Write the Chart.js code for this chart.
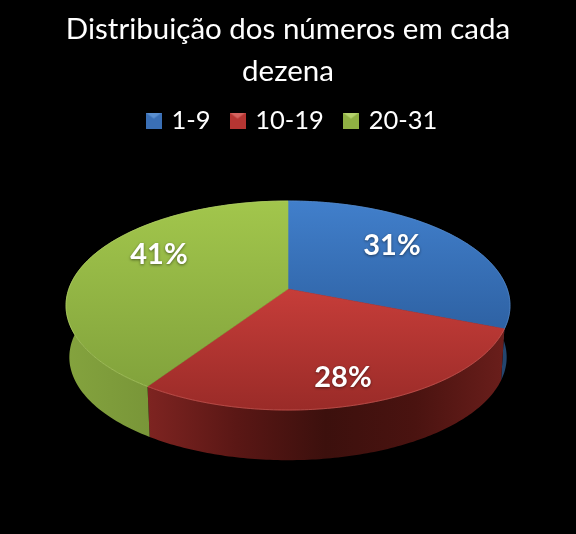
<!DOCTYPE html>
<html>
<head>
<meta charset="utf-8">
<script src="https://cdn.jsdelivr.net/npm/chart.js@4"></script>
<style>
  html, body { margin: 0; padding: 0; background: #000; }
  canvas { display: block; }
</style>
</head>
<body>
<canvas id="grafico" width="576" height="534"></canvas>
<script>
const categorias = ["1-9", "10-19", "20-31"];
const valores = [31, 28.4, 40.6];
const titulo = ["Distribuição dos números em cada", "dezena"];

const corBase = ["#3a6fb5", "#b53532", "#8fb043"];
const corTopo = [["#417fcb", "#2e62a4"], ["#c63d39", "#9a2b28"], ["#a2c64c", "#82a33c"]];
const corLuz = ["#5a8fd0", "#d4625e", "#b5d26c"];
// stops of the side wall, left to right
const corLado = [
  ["#1a3658", "#24466f"],
  ["#7e2421", "#5a1715", "#3c100d", "#4a1310", "#6a1e1b"],
  ["#84a33e", "#66802f"]
];
const faixaTopo = [[201, 328], [289, 410], [201, 386]];
const posRotulo = [[392, 246], [343, 378], [159, 255]];

// perspective of the disc: centre, half axes, tilt
const cx = 288, cy = 289, A = 219.2, B = 101.9, k = 0.158;
const baixoDy = 52, baixoEsc = 0.985;

function projeta(ang, esc, dy) {
  const u = Math.cos(ang), v = Math.sin(ang), d = 1 - k * v;
  return [cx + esc * A * u / d, cy + dy + esc * B * v / d];
}

function caminhoBorda(ctx, a0, a1, esc, dy, primeiro) {
  const n = 120;
  for (let i = 0; i <= n; i++) {
    const p = projeta(a0 + (a1 - a0) * i / n, esc, dy);
    if (i === 0 && primeiro) ctx.moveTo(p[0], p[1]);
    else ctx.lineTo(p[0], p[1]);
  }
}

function extensaoX(a0, a1) {
  let min = 9999, max = -9999;
  for (let i = 0; i <= 120; i++) {
    const x = projeta(a0 + (a1 - a0) * i / 120, 1, 0)[0];
    min = Math.min(min, x);
    max = Math.max(max, x);
  }
  return [min, max];
}

const pizza3d = {
  id: "pizza3d",
  afterLayout(chart) {
    // legend sits a bit right of the title in the original, and closer to it
    chart.legend.left += 5;
    chart.legend.right += 5;
    chart.legend.top -= 7;
    chart.legend.bottom -= 7;
  },
  beforeDatasetsDraw(chart) {
    const ctx = chart.ctx;
    const arcos = chart.getDatasetMeta(0).data;

    // side walls first, the top covers what is behind
    arcos.forEach((arc, i) => {
      const ex = extensaoX(arc.startAngle, arc.endAngle);
      const g = ctx.createLinearGradient(ex[0], 0, ex[1], 0);
      corLado[i].forEach((c, j) => g.addColorStop(j / (corLado[i].length - 1), c));
      ctx.beginPath();
      caminhoBorda(ctx, arc.startAngle, arc.endAngle, 1, 0, true);
      caminhoBorda(ctx, arc.endAngle, arc.startAngle, baixoEsc, baixoDy, false);
      ctx.closePath();
      ctx.fillStyle = g;
      ctx.fill();
    });

    // top of the slices
    arcos.forEach((arc, i) => {
      const g = ctx.createLinearGradient(0, faixaTopo[i][0], 0, faixaTopo[i][1]);
      g.addColorStop(0, corTopo[i][0]);
      g.addColorStop(1, corTopo[i][1]);
      ctx.beginPath();
      ctx.moveTo(cx, cy);
      caminhoBorda(ctx, arc.startAngle, arc.endAngle, 1, 0, false);
      ctx.closePath();
      ctx.fillStyle = g;
      ctx.fill();
      ctx.strokeStyle = g;
      ctx.lineWidth = 0.6;
      ctx.stroke();
    });

    // light line on the rim
    arcos.forEach((arc, i) => {
      ctx.beginPath();
      caminhoBorda(ctx, arc.startAngle, arc.endAngle, 1, 0, true);
      ctx.strokeStyle = corLuz[i];
      ctx.globalAlpha = 0.6;
      ctx.lineWidth = 1;
      ctx.stroke();
      ctx.globalAlpha = 1;
    });

    ctx.save();
    ctx.font = "bold 29px Lato";
    ctx.fillStyle = "#fff";
    ctx.textAlign = "center";
    ctx.textBaseline = "middle";
    ctx.shadowColor = "rgba(0,0,0,0.5)";
    ctx.shadowBlur = 3;
    ctx.shadowOffsetY = 1;
    valores.forEach((v, i) => {
      ctx.fillText(Math.round(v) + "%", posRotulo[i][0], posRotulo[i][1]);
    });
    ctx.restore();
    return false;
  }
};

function marcador(i) {
  const c = document.createElement("canvas");
  c.width = 16;
  c.height = 16;
  const x = c.getContext("2d");
  x.fillStyle = corBase[i];
  x.fillRect(0, 0, 16, 16);
  x.fillStyle = corLuz[i];
  x.beginPath();
  x.moveTo(0, 0);
  x.lineTo(16, 0);
  x.lineTo(8, 6);
  x.closePath();
  x.fill();
  return c;
}

new Chart("grafico", {
  type: "pie",
  data: {
    labels: categorias,
    datasets: [{
      data: valores,
      backgroundColor: corBase,
      borderWidth: 0
    }]
  },
  plugins: [pizza3d],
  options: {
    responsive: false,
    animation: false,
    devicePixelRatio: 1,
    layout: { padding: { top: 9 } },
    plugins: {
      tooltip: { enabled: false },
      title: {
        display: true,
        text: titulo,
        color: "#fff",
        font: { family: "Lato", size: 29.5, weight: "normal", lineHeight: 1.42 },
        padding: { top: 0, bottom: 0 }
      },
      legend: {
        position: "top",
        labels: {
          color: "#fff",
          font: { family: "Lato", size: 25.5 },
          usePointStyle: true,
          pointStyleWidth: 10,
          padding: 22,
          generateLabels(chart) {
            const itens = Chart.overrides.doughnut.plugins.legend.labels.generateLabels(chart);
            itens.forEach((it, i) => { it.pointStyle = marcador(i); });
            return itens;
          }
        }
      }
    }
  }
});
</script>
</body>
</html>
